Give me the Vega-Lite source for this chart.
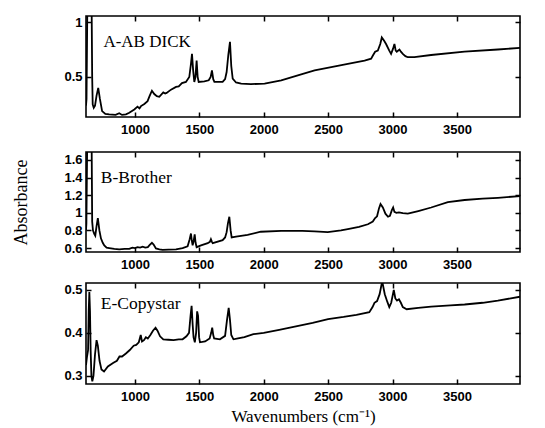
{
  "$schema": "https://vega.github.io/schema/vega-lite/v6.json",
  "padding": {"left": 12, "top": 10, "right": 20, "bottom": 4},
  "spacing": 8,
  "background": "white",
  "datasets": {
    "a": [
      {"wn": 620, "abs": 0.24}, {"wn": 624, "abs": 0.30}, {"wn": 630, "abs": 1.10}, {"wn": 664, "abs": 1.10}, {"wn": 668, "abs": 0.50}, {"wn": 672, "abs": 0.25}, {"wn": 680, "abs": 0.22}, {"wn": 690, "abs": 0.24}, {"wn": 702, "abs": 0.33}, {"wn": 715, "abs": 0.40}, {"wn": 728, "abs": 0.30}, {"wn": 745, "abs": 0.19}, {"wn": 770, "abs": 0.165}, {"wn": 800, "abs": 0.16}, {"wn": 850, "abs": 0.155}, {"wn": 878, "abs": 0.17}, {"wn": 900, "abs": 0.155}, {"wn": 930, "abs": 0.16}, {"wn": 956, "abs": 0.175}, {"wn": 995, "abs": 0.205}, {"wn": 1020, "abs": 0.23}, {"wn": 1035, "abs": 0.215}, {"wn": 1047, "abs": 0.235}, {"wn": 1073, "abs": 0.255}, {"wn": 1098, "abs": 0.28}, {"wn": 1115, "abs": 0.33}, {"wn": 1132, "abs": 0.375}, {"wn": 1150, "abs": 0.345}, {"wn": 1170, "abs": 0.325}, {"wn": 1189, "abs": 0.32}, {"wn": 1220, "abs": 0.36}, {"wn": 1235, "abs": 0.35}, {"wn": 1246, "abs": 0.355}, {"wn": 1280, "abs": 0.385}, {"wn": 1319, "abs": 0.41}, {"wn": 1340, "abs": 0.415}, {"wn": 1365, "abs": 0.445}, {"wn": 1396, "abs": 0.455}, {"wn": 1422, "abs": 0.50}, {"wn": 1435, "abs": 0.62}, {"wn": 1443, "abs": 0.71}, {"wn": 1452, "abs": 0.56}, {"wn": 1461, "abs": 0.455}, {"wn": 1470, "abs": 0.50}, {"wn": 1479, "abs": 0.65}, {"wn": 1487, "abs": 0.50}, {"wn": 1495, "abs": 0.455}, {"wn": 1539, "abs": 0.46}, {"wn": 1573, "abs": 0.47}, {"wn": 1588, "abs": 0.50}, {"wn": 1598, "abs": 0.56}, {"wn": 1608, "abs": 0.48}, {"wn": 1617, "abs": 0.455}, {"wn": 1681, "abs": 0.455}, {"wn": 1700, "abs": 0.48}, {"wn": 1712, "abs": 0.545}, {"wn": 1725, "abs": 0.70}, {"wn": 1738, "abs": 0.82}, {"wn": 1748, "abs": 0.60}, {"wn": 1759, "abs": 0.485}, {"wn": 1785, "abs": 0.45}, {"wn": 1825, "abs": 0.44}, {"wn": 1900, "abs": 0.435}, {"wn": 2007, "abs": 0.44}, {"wn": 2136, "abs": 0.47}, {"wn": 2265, "abs": 0.515}, {"wn": 2395, "abs": 0.56}, {"wn": 2524, "abs": 0.59}, {"wn": 2653, "abs": 0.62}, {"wn": 2783, "abs": 0.65}, {"wn": 2834, "abs": 0.667}, {"wn": 2850, "abs": 0.70}, {"wn": 2865, "abs": 0.73}, {"wn": 2886, "abs": 0.74}, {"wn": 2905, "abs": 0.80}, {"wn": 2917, "abs": 0.86}, {"wn": 2935, "abs": 0.83}, {"wn": 2950, "abs": 0.80}, {"wn": 2975, "abs": 0.74}, {"wn": 2989, "abs": 0.71}, {"wn": 3005, "abs": 0.76}, {"wn": 3015, "abs": 0.80}, {"wn": 3025, "abs": 0.74}, {"wn": 3033, "abs": 0.73}, {"wn": 3054, "abs": 0.75}, {"wn": 3065, "abs": 0.73}, {"wn": 3080, "abs": 0.71}, {"wn": 3100, "abs": 0.69}, {"wn": 3119, "abs": 0.68}, {"wn": 3170, "abs": 0.68}, {"wn": 3300, "abs": 0.70}, {"wn": 3559, "abs": 0.73}, {"wn": 3818, "abs": 0.75}, {"wn": 3990, "abs": 0.765}
    ],
    "b": [
      {"wn": 620, "abs": 0.80}, {"wn": 623, "abs": 0.88}, {"wn": 629, "abs": 1.75}, {"wn": 664, "abs": 1.75}, {"wn": 668, "abs": 0.90}, {"wn": 674, "abs": 0.80}, {"wn": 684, "abs": 0.76}, {"wn": 692, "abs": 0.74}, {"wn": 702, "abs": 0.85}, {"wn": 712, "abs": 0.94}, {"wn": 724, "abs": 0.80}, {"wn": 736, "abs": 0.71}, {"wn": 750, "abs": 0.66}, {"wn": 762, "abs": 0.63}, {"wn": 780, "abs": 0.605}, {"wn": 800, "abs": 0.60}, {"wn": 840, "abs": 0.59}, {"wn": 878, "abs": 0.585}, {"wn": 920, "abs": 0.59}, {"wn": 956, "abs": 0.59}, {"wn": 980, "abs": 0.605}, {"wn": 1000, "abs": 0.60}, {"wn": 1020, "abs": 0.61}, {"wn": 1040, "abs": 0.605}, {"wn": 1060, "abs": 0.615}, {"wn": 1080, "abs": 0.605}, {"wn": 1100, "abs": 0.61}, {"wn": 1115, "abs": 0.635}, {"wn": 1132, "abs": 0.66}, {"wn": 1145, "abs": 0.64}, {"wn": 1163, "abs": 0.595}, {"wn": 1190, "abs": 0.585}, {"wn": 1215, "abs": 0.58}, {"wn": 1260, "abs": 0.583}, {"wn": 1319, "abs": 0.585}, {"wn": 1370, "abs": 0.60}, {"wn": 1409, "abs": 0.62}, {"wn": 1425, "abs": 0.70}, {"wn": 1435, "abs": 0.765}, {"wn": 1442, "abs": 0.68}, {"wn": 1448, "abs": 0.63}, {"wn": 1456, "abs": 0.68}, {"wn": 1464, "abs": 0.755}, {"wn": 1471, "abs": 0.66}, {"wn": 1479, "abs": 0.61}, {"wn": 1513, "abs": 0.63}, {"wn": 1565, "abs": 0.655}, {"wn": 1582, "abs": 0.67}, {"wn": 1590, "abs": 0.70}, {"wn": 1598, "abs": 0.67}, {"wn": 1604, "abs": 0.655}, {"wn": 1681, "abs": 0.69}, {"wn": 1700, "abs": 0.72}, {"wn": 1712, "abs": 0.78}, {"wn": 1722, "abs": 0.88}, {"wn": 1733, "abs": 0.955}, {"wn": 1743, "abs": 0.80}, {"wn": 1751, "abs": 0.72}, {"wn": 1785, "abs": 0.73}, {"wn": 1875, "abs": 0.75}, {"wn": 1977, "abs": 0.785}, {"wn": 2136, "abs": 0.795}, {"wn": 2300, "abs": 0.795}, {"wn": 2395, "abs": 0.79}, {"wn": 2497, "abs": 0.78}, {"wn": 2600, "abs": 0.80}, {"wn": 2653, "abs": 0.815}, {"wn": 2740, "abs": 0.84}, {"wn": 2809, "abs": 0.87}, {"wn": 2847, "abs": 0.90}, {"wn": 2865, "abs": 0.94}, {"wn": 2880, "abs": 0.96}, {"wn": 2895, "abs": 1.05}, {"wn": 2907, "abs": 1.10}, {"wn": 2925, "abs": 1.06}, {"wn": 2945, "abs": 0.99}, {"wn": 2965, "abs": 0.955}, {"wn": 2980, "abs": 0.965}, {"wn": 2995, "abs": 1.03}, {"wn": 3005, "abs": 1.06}, {"wn": 3015, "abs": 1.01}, {"wn": 3030, "abs": 1.0}, {"wn": 3050, "abs": 1.005}, {"wn": 3080, "abs": 0.995}, {"wn": 3119, "abs": 0.99}, {"wn": 3200, "abs": 1.02}, {"wn": 3300, "abs": 1.06}, {"wn": 3430, "abs": 1.12}, {"wn": 3560, "abs": 1.145}, {"wn": 3700, "abs": 1.16}, {"wn": 3818, "abs": 1.17}, {"wn": 3990, "abs": 1.19}
    ],
    "c": [
      {"wn": 620, "abs": 0.325}, {"wn": 628, "abs": 0.345}, {"wn": 636, "abs": 0.36}, {"wn": 641, "abs": 0.45}, {"wn": 646, "abs": 0.495}, {"wn": 651, "abs": 0.45}, {"wn": 656, "abs": 0.36}, {"wn": 662, "abs": 0.30}, {"wn": 669, "abs": 0.287}, {"wn": 678, "abs": 0.30}, {"wn": 690, "abs": 0.35}, {"wn": 702, "abs": 0.383}, {"wn": 712, "abs": 0.37}, {"wn": 725, "abs": 0.335}, {"wn": 740, "abs": 0.315}, {"wn": 760, "abs": 0.31}, {"wn": 790, "abs": 0.322}, {"wn": 830, "abs": 0.33}, {"wn": 860, "abs": 0.335}, {"wn": 880, "abs": 0.345}, {"wn": 900, "abs": 0.345}, {"wn": 930, "abs": 0.352}, {"wn": 960, "abs": 0.36}, {"wn": 990, "abs": 0.37}, {"wn": 1010, "abs": 0.372}, {"wn": 1030, "abs": 0.378}, {"wn": 1045, "abs": 0.395}, {"wn": 1055, "abs": 0.38}, {"wn": 1070, "abs": 0.383}, {"wn": 1085, "abs": 0.39}, {"wn": 1100, "abs": 0.387}, {"wn": 1120, "abs": 0.395}, {"wn": 1140, "abs": 0.405}, {"wn": 1160, "abs": 0.412}, {"wn": 1175, "abs": 0.405}, {"wn": 1195, "abs": 0.392}, {"wn": 1220, "abs": 0.385}, {"wn": 1260, "abs": 0.384}, {"wn": 1300, "abs": 0.383}, {"wn": 1340, "abs": 0.385}, {"wn": 1370, "abs": 0.385}, {"wn": 1400, "abs": 0.392}, {"wn": 1420, "abs": 0.40}, {"wn": 1432, "abs": 0.44}, {"wn": 1440, "abs": 0.463}, {"wn": 1448, "abs": 0.42}, {"wn": 1455, "abs": 0.39}, {"wn": 1465, "abs": 0.378}, {"wn": 1475, "abs": 0.40}, {"wn": 1483, "abs": 0.45}, {"wn": 1490, "abs": 0.44}, {"wn": 1498, "abs": 0.39}, {"wn": 1505, "abs": 0.378}, {"wn": 1545, "abs": 0.38}, {"wn": 1580, "abs": 0.387}, {"wn": 1592, "abs": 0.40}, {"wn": 1600, "abs": 0.412}, {"wn": 1608, "abs": 0.395}, {"wn": 1615, "abs": 0.387}, {"wn": 1660, "abs": 0.385}, {"wn": 1700, "abs": 0.393}, {"wn": 1715, "abs": 0.43}, {"wn": 1728, "abs": 0.458}, {"wn": 1738, "abs": 0.43}, {"wn": 1748, "abs": 0.395}, {"wn": 1765, "abs": 0.385}, {"wn": 1800, "abs": 0.387}, {"wn": 1850, "abs": 0.39}, {"wn": 1920, "abs": 0.397}, {"wn": 2000, "abs": 0.40}, {"wn": 2120, "abs": 0.407}, {"wn": 2250, "abs": 0.415}, {"wn": 2380, "abs": 0.423}, {"wn": 2500, "abs": 0.432}, {"wn": 2620, "abs": 0.437}, {"wn": 2720, "abs": 0.442}, {"wn": 2820, "abs": 0.448}, {"wn": 2845, "abs": 0.46}, {"wn": 2860, "abs": 0.47}, {"wn": 2880, "abs": 0.474}, {"wn": 2900, "abs": 0.49}, {"wn": 2920, "abs": 0.52}, {"wn": 2940, "abs": 0.49}, {"wn": 2960, "abs": 0.472}, {"wn": 2975, "abs": 0.46}, {"wn": 2990, "abs": 0.47}, {"wn": 3010, "abs": 0.50}, {"wn": 3022, "abs": 0.48}, {"wn": 3035, "abs": 0.475}, {"wn": 3050, "abs": 0.478}, {"wn": 3065, "abs": 0.47}, {"wn": 3080, "abs": 0.46}, {"wn": 3110, "abs": 0.455}, {"wn": 3200, "abs": 0.458}, {"wn": 3300, "abs": 0.461}, {"wn": 3450, "abs": 0.464}, {"wn": 3560, "abs": 0.466}, {"wn": 3700, "abs": 0.47}, {"wn": 3818, "abs": 0.475}, {"wn": 3990, "abs": 0.484}
    ]
  },
  "vconcat": [
    {
      "width": 434, "height": 101,
      "layer": [
        {
          "data": {"name": "a"},
          "mark": {"type": "line", "color": "black", "strokeWidth": 1.8, "clip": true},
          "encoding": {
            "x": {"field": "wn", "type": "quantitative", "scale": {"domain": [620, 3990], "nice": false, "zero": false},
                  "axis": {"orient": "bottom", "values": [1000, 1500, 2000, 2500, 3000, 3500], "format": "d", "title": null}},
            "y": {"field": "abs", "type": "quantitative", "scale": {"domain": [0.136, 1.055], "nice": false, "zero": false},
                  "axis": {"orient": "left", "values": [0.5, 1], "format": "~g", "title": null}}
          }
        },
        {
          "data": {"name": "a"},
          "mark": {"type": "line", "opacity": 0},
          "encoding": {
            "x": {"field": "wn", "type": "quantitative", "axis": {"orient": "top", "labels": false, "values": [1000, 1500, 2000, 2500, 3000, 3500], "title": null}},
            "y": {"field": "abs", "type": "quantitative", "axis": {"orient": "right", "labels": false, "values": [0.5, 1], "title": null}}
          }
        },
        {
          "data": {"values": [{}]},
          "mark": {"type": "text", "text": "A-AB DICK", "align": "left", "baseline": "middle", "font": "Liberation Serif", "fontSize": 17, "color": "black"},
          "encoding": {"x": {"datum": 755, "type": "quantitative", "axis": null}, "y": {"datum": 0.82, "type": "quantitative", "axis": null}}
        }
      ],
      "resolve": {"axis": {"x": "independent", "y": "independent"}}
    },
    {
      "width": 434, "height": 100,
      "layer": [
        {
          "data": {"name": "b"},
          "mark": {"type": "line", "color": "black", "strokeWidth": 1.8, "clip": true},
          "encoding": {
            "x": {"field": "wn", "type": "quantitative", "scale": {"domain": [620, 3990], "nice": false, "zero": false},
                  "axis": {"orient": "bottom", "values": [1000, 1500, 2000, 2500, 3000, 3500], "format": "d", "title": null}},
            "y": {"field": "abs", "type": "quantitative", "scale": {"domain": [0.555, 1.69], "nice": false, "zero": false},
                  "axis": {"orient": "left", "values": [0.6, 0.8, 1, 1.2, 1.4, 1.6], "format": "~g", "title": "Absorbance", "titlePadding": 33, "titleFontSize": 18}}
          }
        },
        {
          "data": {"name": "b"},
          "mark": {"type": "line", "opacity": 0},
          "encoding": {
            "x": {"field": "wn", "type": "quantitative", "axis": {"orient": "top", "labels": false, "values": [1000, 1500, 2000, 2500, 3000, 3500], "title": null}},
            "y": {"field": "abs", "type": "quantitative", "axis": {"orient": "right", "labels": false, "values": [0.6, 0.8, 1, 1.2, 1.4, 1.6], "title": null}}
          }
        },
        {
          "data": {"values": [{}]},
          "mark": {"type": "text", "text": "B-Brother", "align": "left", "baseline": "middle", "font": "Liberation Serif", "fontSize": 17.5, "color": "black"},
          "encoding": {"x": {"datum": 735, "type": "quantitative", "axis": null}, "y": {"datum": 1.395, "type": "quantitative", "axis": null}}
        }
      ],
      "resolve": {"axis": {"x": "independent", "y": "independent"}}
    },
    {
      "width": 434, "height": 101,
      "layer": [
        {
          "data": {"name": "c"},
          "mark": {"type": "line", "color": "black", "strokeWidth": 1.8, "clip": true},
          "encoding": {
            "x": {"field": "wn", "type": "quantitative", "scale": {"domain": [620, 3990], "nice": false, "zero": false},
                  "axis": {"orient": "bottom", "values": [1000, 1500, 2000, 2500, 3000, 3500], "format": "d", "title": "Wavenumbers (cm⁻¹)", "titlePadding": 5}},
            "y": {"field": "abs", "type": "quantitative", "scale": {"domain": [0.281, 0.516], "nice": false, "zero": false},
                  "axis": {"orient": "left", "values": [0.3, 0.4, 0.5], "format": "~g", "title": null}}
          }
        },
        {
          "data": {"name": "c"},
          "mark": {"type": "line", "opacity": 0},
          "encoding": {
            "x": {"field": "wn", "type": "quantitative", "axis": {"orient": "top", "labels": false, "values": [1000, 1500, 2000, 2500, 3000, 3500], "title": null}},
            "y": {"field": "abs", "type": "quantitative", "axis": {"orient": "right", "labels": false, "values": [0.3, 0.4, 0.5], "title": null}}
          }
        },
        {
          "data": {"values": [{}]},
          "mark": {"type": "text", "text": "E-Copystar", "align": "left", "baseline": "middle", "font": "Liberation Serif", "fontSize": 17.5, "color": "black"},
          "encoding": {"x": {"datum": 735, "type": "quantitative", "axis": null}, "y": {"datum": 0.468, "type": "quantitative", "axis": null}}
        }
      ],
      "resolve": {"axis": {"x": "independent", "y": "independent"}}
    }
  ],
  "config": {
    "view": {"stroke": "black", "strokeWidth": 1.6},
    "axis": {
      "grid": false, "domain": false, "ticks": true, "zindex": 2,
      "tickColor": "black", "tickOpacity": 1, "tickSize": 5, "tickWidth": 1.5, "offset": -5,
      "labelFont": "Liberation Sans", "labelFontWeight": "bold", "labelFontSize": 13, "labelColor": "black",
      "titleFont": "Liberation Serif", "titleFontWeight": "normal", "titleFontSize": 17, "titleColor": "black"
    },
    "axisX": {"labelPadding": 6},
    "axisY": {"labelPadding": 4}
  }
}
